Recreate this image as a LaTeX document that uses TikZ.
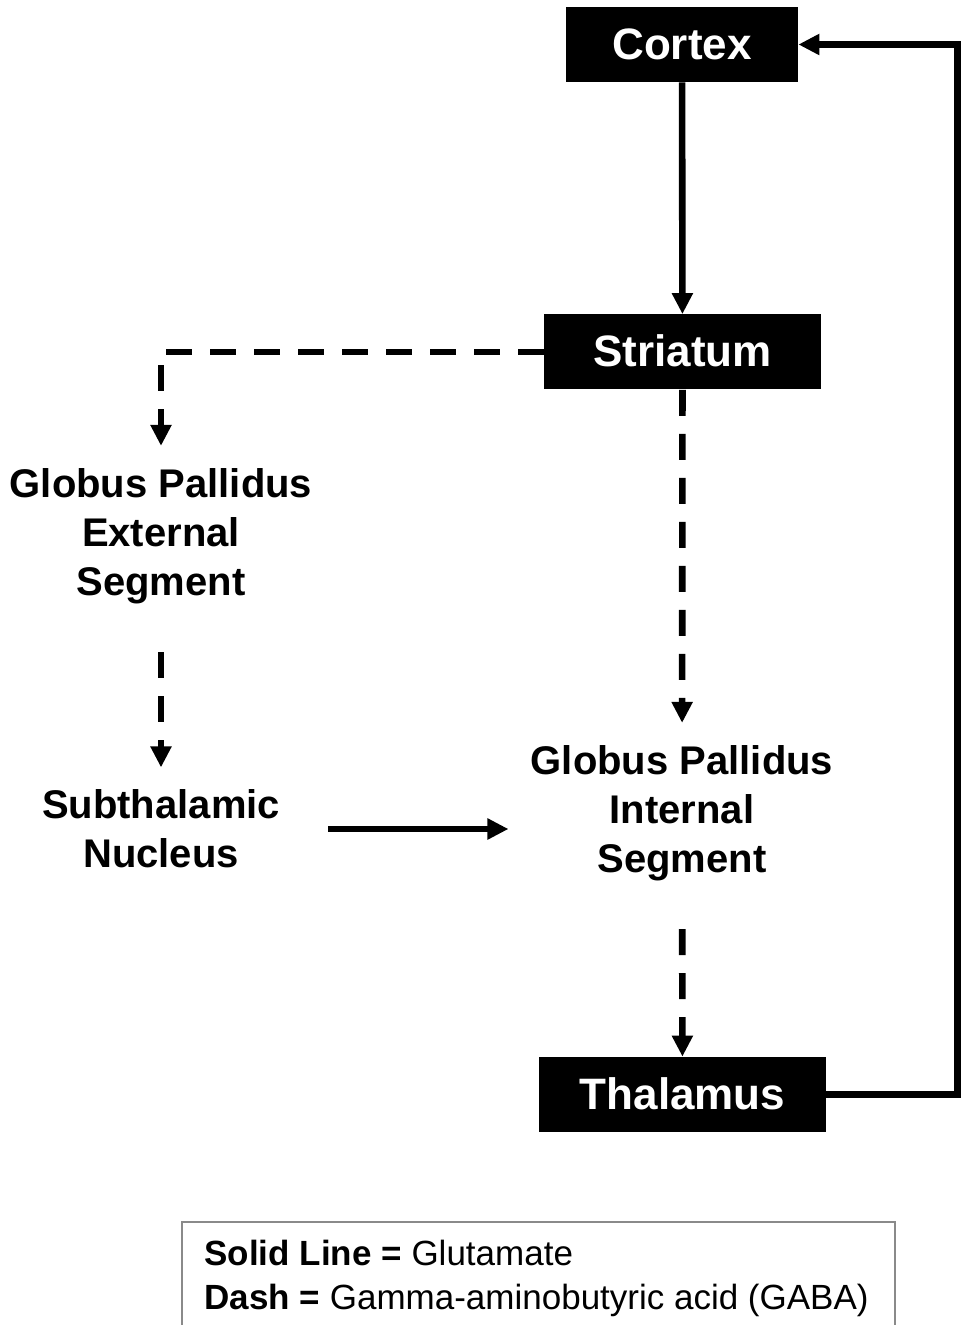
\documentclass[tikz,border=0pt]{standalone}
\usepackage{fontspec}
\setmainfont{Liberation Sans}
\usetikzlibrary{arrows.meta,positioning,calc}
\definecolor{bgblack}{HTML}{000000}
\definecolor{bggray}{HTML}{8A8A8A}

\begin{document}
\begin{tikzpicture}[
  x=0.5pt, y=-0.5pt,
  region/.style={fill=bgblack, text=white, inner sep=0pt, minimum height=37.5pt, text height=16pt, text depth=1pt, font=\fontsize{22}{26}\selectfont\bfseries},
  label/.style={align=center, inner sep=11pt, font=\fontsize{20}{24.5}\selectfont\bfseries},
  glu/.style={-{Triangle[length=10.5pt,width=10pt]}, line width=3.3pt, draw=bgblack},
  gaba/.style={glu, dash pattern=on 13pt off 9pt},
  keybox/.style={draw=bggray, line width=0.8pt, inner sep=0pt, minimum width=356.5pt, minimum height=56pt},
  keytext/.style={inner sep=0pt, font=\fontsize{17.5}{21}\selectfont}
]
\useasboundingbox (0,0) rectangle (960,1325);
\node[region, minimum width=116pt] (ctx) at (682,44.5) {Cortex};
\node[region, minimum width=138.5pt] (str) at (682.5,352) {Striatum};
\node[region, minimum width=143.5pt] (thal) at (682.5,1094.5) {Thalamus};
\node[label] (gpe) at (161,536) {Globus Pallidus\\External\\Segment};
\node[label] (stn) at (161,829) {Subthalamic\\Nucleus};
\node[label] (gpi) at (682,813) {Globus Pallidus\\Internal\\Segment};
\draw[glu] (ctx) -- (str);
\draw[gaba] (str.west) -| (gpe.north);
\draw[gaba] (str) -- (gpi);
\draw[gaba, shorten <=13pt] (gpe) -- (stn);
\draw[glu, shorten <=13pt] (stn.east) -- (stn.east -| gpi.west);
\draw[gaba, shorten <=13pt] (gpi) -- (thal);
\draw[glu] (thal.east) -- ++(131,0) |- (ctx.east);
% legend
\node[keybox, anchor=north west] (key) at (181,1221) {};
\node[keytext, anchor=base west] (k1) at (204,1265) {\textbf{Solid Line =} Glutamate};
\node[keytext, anchor=base west] (k2) at (204,1309) {\textbf{Dash =} Gamma-aminobutyric acid (GABA)};
\end{tikzpicture}
\end{document}
